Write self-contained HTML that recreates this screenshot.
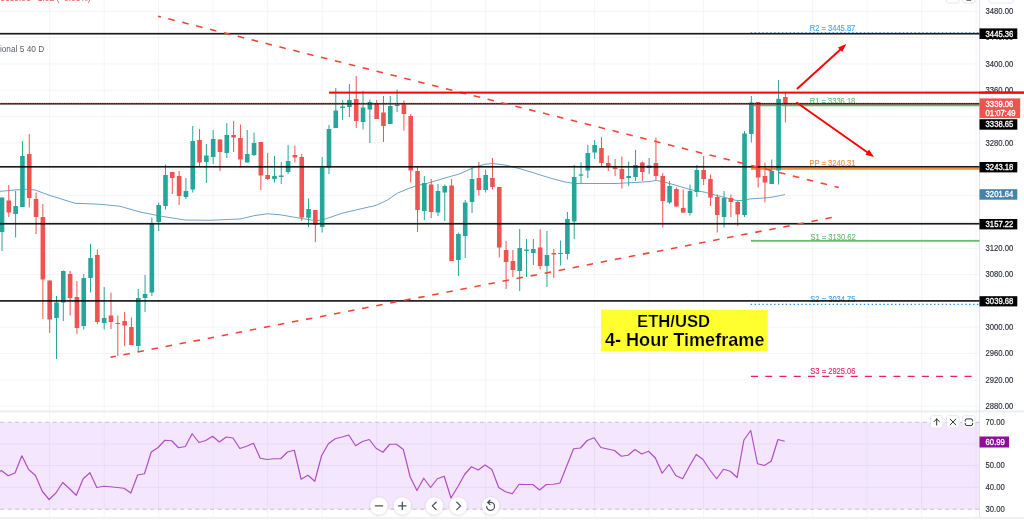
<!DOCTYPE html>
<html><head><meta charset="utf-8"><title>ETH/USD</title>
<style>
html,body{margin:0;padding:0;background:#fff;}
body{width:1024px;height:521px;overflow:hidden;font-family:"Liberation Sans",sans-serif;}
svg{display:block;font-family:"Liberation Sans",sans-serif;}
.ax{font-size:8.3px;fill:#2a2e39;stroke:#2a2e39;stroke-width:0.15px;}
.lb{font-size:8.3px;fill:#fff;stroke:#fff;stroke-width:0.32px;}
</style></head><body>
<svg width="1024" height="521" viewBox="0 0 1024 521">
<rect width="1024" height="521" fill="#fff"/>
<g opacity="0.999">

<rect x="0" y="422.3" width="979.5" height="86.9" fill="#f4e6fd"/>
<g stroke="#f4f5f8" stroke-width="1" fill="none">
<path d="M49.68 0V518"/>
<path d="M104.18 0V518"/>
<path d="M158.68 0V518"/>
<path d="M213.17 0V518"/>
<path d="M267.67 0V518"/>
<path d="M322.16 0V518"/>
<path d="M376.66 0V518"/>
<path d="M431.16 0V518"/>
<path d="M485.65 0V518"/>
<path d="M540.15 0V518"/>
<path d="M594.64 0V518"/>
<path d="M649.14 0V518"/>
<path d="M703.64 0V518"/>
<path d="M758.13 0V518"/>
<path d="M812.63 0V518"/>
<path d="M867.12 0V518"/>
<path d="M921.62 0V518"/>
<path d="M976.12 0V518"/>
<path d="M0 11.25H979.5"/>
<path d="M0 37.58H979.5"/>
<path d="M0 63.91H979.5"/>
<path d="M0 90.25H979.5"/>
<path d="M0 116.58H979.5"/>
<path d="M0 142.91H979.5"/>
<path d="M0 169.24H979.5"/>
<path d="M0 195.57H979.5"/>
<path d="M0 221.91H979.5"/>
<path d="M0 248.24H979.5"/>
<path d="M0 274.57H979.5"/>
<path d="M0 300.9H979.5"/>
<path d="M0 327.23H979.5"/>
<path d="M0 353.57H979.5"/>
<path d="M0 379.9H979.5"/>
<path d="M0 406.23H979.5"/>
<path d="M0 443.9H979.5" stroke="#ead9f5"/>
<path d="M0 465.6H979.5" stroke="#ead9f5"/>
<path d="M0 487.3H979.5" stroke="#ead9f5"/>
</g>
<g stroke="#e9d9f4" stroke-width="1">
<path d="M49.68 422.3V509.2"/>
<path d="M104.18 422.3V509.2"/>
<path d="M158.68 422.3V509.2"/>
<path d="M213.17 422.3V509.2"/>
<path d="M267.67 422.3V509.2"/>
<path d="M322.16 422.3V509.2"/>
<path d="M376.66 422.3V509.2"/>
<path d="M431.16 422.3V509.2"/>
<path d="M485.65 422.3V509.2"/>
<path d="M540.15 422.3V509.2"/>
<path d="M594.64 422.3V509.2"/>
<path d="M649.14 422.3V509.2"/>
<path d="M703.64 422.3V509.2"/>
<path d="M758.13 422.3V509.2"/>
<path d="M812.63 422.3V509.2"/>
<path d="M867.12 422.3V509.2"/>
<path d="M921.62 422.3V509.2"/>
<path d="M976.12 422.3V509.2"/>
</g>
<rect x="0" y="410.4" width="1024" height="2" fill="#eceef2"/>
<rect x="0" y="517.5" width="1024" height="1" fill="#e0e3eb"/>
<rect x="979" y="0" width="1" height="518" fill="#e0e3eb"/>
<path d="M0 422.3H979.5M0 509.2H979.5" stroke="#c2bdca" stroke-width="0.9" stroke-dasharray="4.3 3.2" fill="none"/>
<polyline fill="none" stroke="#b14ec5" stroke-width="1.2" stroke-linejoin="round" points="-4.8,474.5 1.4,470.5 8.21,475.75 15.02,473 21.84,455.75 28.65,469.5 35.46,475.5 42.27,491.25 49.08,499.5 55.9,493 62.71,482.5 69.52,488.75 76.33,495.25 83.14,478.75 89.96,472.75 96.77,487.5 103.58,486.25 110.39,486.75 117.2,487.5 124.02,488.25 130.83,493 137.64,475 144.45,473.75 151.26,452 158.08,447.5 164.89,440.25 171.7,440.75 178.51,447.75 185.32,446.5 192.14,433.75 198.95,442.5 205.76,440.5 212.57,436.25 219.38,442 226.2,437 233.01,438 239.82,448.5 246.63,446.25 253.44,443.25 260.26,458.25 267.07,459.5 273.88,458.75 280.69,458.75 287.5,452 294.32,450.25 301.13,479.25 307.94,475.25 314.75,481.25 321.56,455.75 328.38,443.75 335.19,438.75 342,437 348.81,435 355.62,445.75 362.44,441.5 369.25,439.5 376.06,448.25 382.87,452.25 389.68,444.25 396.5,444.25 403.31,449.5 410.12,476.75 416.93,490.5 423.74,478.25 430.56,487.5 437.37,478.75 444.18,476.25 450.99,498 457.8,486.75 464.62,474.5 471.43,466.75 478.24,470 485.05,465 491.86,469.5 498.68,487.5 505.49,491.75 512.3,493.75 519.11,484.25 525.92,484.5 532.74,484.5 539.55,490 546.36,484.5 553.17,484.25 559.98,483 566.8,465.75 573.61,448.75 580.42,448 587.23,440.5 594.04,437.75 600.86,447.5 607.67,449 614.48,450.5 621.29,456.25 628.1,455.25 634.92,449.5 641.73,454 648.54,451.25 655.35,458 662.16,473.25 668.98,464.5 675.79,475.5 682.6,478.75 689.41,466.25 696.22,454.5 703.04,459.5 709.85,470 716.66,478.75 723.47,469.25 730.28,471.25 737.1,477.5 743.91,440 750.72,430.5 757.53,463.75 764.34,465.5 771.16,461.25 777.97,439.5 784.78,441.25"/>
<path d="M750.7 32.6H979.5" stroke="#2196f3" stroke-opacity="0.8" stroke-width="1" stroke-dasharray="1.4 2.5" fill="none"/>
<rect x="751" y="104.6" width="228.5" height="1.7" fill="#66bb6a"/>
<rect x="751" y="167.9" width="228.5" height="1.9" fill="#fb8c3c"/>
<rect x="751" y="239.9" width="228.5" height="1.8" fill="#66bb6a"/>
<path d="M750.7 304.4H979.5" stroke="#2196f3" stroke-width="1.4" stroke-dasharray="1.4 2.5" fill="none"/>
<path d="M751 376.4H972" stroke="#e91e63" stroke-width="1.35" stroke-dasharray="7 7.24" fill="none"/>
<g font-size="8.2" text-anchor="middle">
<text transform="translate(832.5 30.8) scale(0.925 1)" fill="#42a5f5" stroke="#42a5f5" stroke-width="0.12">R2 = 3445.87</text>
<text transform="translate(832.5 103.6) scale(0.925 1)" fill="#66bb6a" stroke="#66bb6a" stroke-width="0.1">R1 = 3336.18</text>
<text transform="translate(832.5 166.4) scale(0.925 1)" fill="#fb8c3c" stroke="#fb8c3c" stroke-width="0.12">PP = 3240.31</text>
<text transform="translate(833 239.6) scale(0.925 1)" fill="#66bb6a" stroke="#66bb6a" stroke-width="0.12">S1 = 3130.62</text>
<text transform="translate(832.9 301.6) scale(0.925 1)" fill="#42a5f5" stroke="#42a5f5" stroke-width="0.12">S2 = 3034.75</text>
<text transform="translate(832.9 374.3) scale(0.925 1)" fill="#e91e63" stroke="#e91e63" stroke-width="0.12">S3 = 2925.06</text>
</g>
<polyline fill="none" stroke="#6fa2c8" stroke-width="1" stroke-linejoin="round" points="-2,191.5 15,190 25,189.25 35,190 50,195.5 75,203.25 100,204.25 120,206.25 140,212 160,216 185,220 210,220.25 240,219 255,215.5 267.5,213.75 280,214.75 292.5,216.9 305,219 315,220.6 321,220.25 326,218.75 342.5,213.1 360,209 376,205.4 387.5,200 397.5,193.1 408,188.75 415,186.25 430,182.5 445,178 460,173.75 475,167 485,164.25 492.5,163.5 505,165 520,168.75 535,173.25 550,178 565,182 575,183.5 590,183.5 615,183.5 635,182.5 650,181.5 656.25,180.4 665,182.25 675,185 691,189.75 705,192.25 715,195 725,197.5 736,200.4 742.5,200.6 750,198.9 762.5,198.1 770,197.5 778,196 785,194.5"/>
<path d="M2 197.5V251" stroke="#26a69a" stroke-width="1" fill="none"/>
<rect x="-0.3" y="197.5" width="4.6" height="34.5" fill="#26a69a"/>
<path d="M8.81 185V217" stroke="#ef5350" stroke-width="1" fill="none"/>
<rect x="6.51" y="200.5" width="4.6" height="12" fill="#ef5350"/>
<path d="M15.62 191V237.5" stroke="#26a69a" stroke-width="1" fill="none"/>
<rect x="13.32" y="206" width="4.6" height="8" fill="#26a69a"/>
<path d="M22.44 141V207" stroke="#26a69a" stroke-width="1" fill="none"/>
<rect x="20.14" y="156" width="4.6" height="51" fill="#26a69a"/>
<path d="M29.25 134V207.5" stroke="#ef5350" stroke-width="1" fill="none"/>
<rect x="26.95" y="154" width="4.6" height="44" fill="#ef5350"/>
<path d="M36.06 192.5V234" stroke="#ef5350" stroke-width="1" fill="none"/>
<rect x="33.76" y="199" width="4.6" height="18" fill="#ef5350"/>
<path d="M42.87 204V319" stroke="#ef5350" stroke-width="1" fill="none"/>
<rect x="40.57" y="217" width="4.6" height="62.5" fill="#ef5350"/>
<path d="M49.68 280.5V333" stroke="#ef5350" stroke-width="1" fill="none"/>
<rect x="47.38" y="280.5" width="4.6" height="39" fill="#ef5350"/>
<path d="M56.5 296V359" stroke="#26a69a" stroke-width="1" fill="none"/>
<rect x="54.2" y="302.5" width="4.6" height="15.5" fill="#26a69a"/>
<path d="M63.31 270.5V321" stroke="#26a69a" stroke-width="1" fill="none"/>
<rect x="61.01" y="271" width="4.6" height="31.5" fill="#26a69a"/>
<path d="M70.12 271V315.5" stroke="#ef5350" stroke-width="1" fill="none"/>
<rect x="67.82" y="274" width="4.6" height="24" fill="#ef5350"/>
<path d="M76.93 281V334" stroke="#ef5350" stroke-width="1" fill="none"/>
<rect x="74.63" y="297" width="4.6" height="31" fill="#ef5350"/>
<path d="M83.74 274V329.5" stroke="#26a69a" stroke-width="1" fill="none"/>
<rect x="81.44" y="278" width="4.6" height="48" fill="#26a69a"/>
<path d="M90.56 243.75V292.5" stroke="#26a69a" stroke-width="1" fill="none"/>
<rect x="88.26" y="258" width="4.6" height="20" fill="#26a69a"/>
<path d="M97.37 249.5V324" stroke="#ef5350" stroke-width="1" fill="none"/>
<rect x="95.07" y="255" width="4.6" height="67" fill="#ef5350"/>
<path d="M104.18 287V329.5" stroke="#26a69a" stroke-width="1" fill="none"/>
<rect x="101.88" y="318" width="4.6" height="5" fill="#26a69a"/>
<path d="M110.99 292.5V329" stroke="#ef5350" stroke-width="1" fill="none"/>
<rect x="108.69" y="315.5" width="4.6" height="6.5" fill="#ef5350"/>
<path d="M117.8 315.5V356" stroke="#ef5350" stroke-width="1" fill="none"/>
<rect x="115.5" y="323" width="4.6" height="1" fill="#ef5350"/>
<path d="M124.62 312V346" stroke="#ef5350" stroke-width="1" fill="none"/>
<rect x="122.32" y="321" width="4.6" height="4.5" fill="#ef5350"/>
<path d="M131.43 317.5V345" stroke="#ef5350" stroke-width="1" fill="none"/>
<rect x="129.13" y="327" width="4.6" height="18" fill="#ef5350"/>
<path d="M138.24 289V352" stroke="#26a69a" stroke-width="1" fill="none"/>
<rect x="135.94" y="298" width="4.6" height="48" fill="#26a69a"/>
<path d="M145.05 275V312" stroke="#26a69a" stroke-width="1" fill="none"/>
<rect x="142.75" y="294" width="4.6" height="4" fill="#26a69a"/>
<path d="M151.86 217.5V296" stroke="#26a69a" stroke-width="1" fill="none"/>
<rect x="149.56" y="224" width="4.6" height="68.5" fill="#26a69a"/>
<path d="M158.68 202.5V231" stroke="#26a69a" stroke-width="1" fill="none"/>
<rect x="156.38" y="205" width="4.6" height="17" fill="#26a69a"/>
<path d="M165.49 164.5V209.5" stroke="#26a69a" stroke-width="1" fill="none"/>
<rect x="163.19" y="175" width="4.6" height="31" fill="#26a69a"/>
<path d="M172.3 172V194" stroke="#ef5350" stroke-width="1" fill="none"/>
<rect x="170" y="172" width="4.6" height="6" fill="#ef5350"/>
<path d="M179.11 171V205" stroke="#ef5350" stroke-width="1" fill="none"/>
<rect x="176.81" y="176" width="4.6" height="20" fill="#ef5350"/>
<path d="M185.92 178V199" stroke="#26a69a" stroke-width="1" fill="none"/>
<rect x="183.62" y="191" width="4.6" height="6" fill="#26a69a"/>
<path d="M192.74 126V192.5" stroke="#26a69a" stroke-width="1" fill="none"/>
<rect x="190.44" y="141" width="4.6" height="48.5" fill="#26a69a"/>
<path d="M199.55 129V166" stroke="#ef5350" stroke-width="1" fill="none"/>
<rect x="197.25" y="140" width="4.6" height="22.5" fill="#ef5350"/>
<path d="M206.36 144V183" stroke="#26a69a" stroke-width="1" fill="none"/>
<rect x="204.06" y="155.5" width="4.6" height="6.5" fill="#26a69a"/>
<path d="M213.17 130V164" stroke="#26a69a" stroke-width="1" fill="none"/>
<rect x="210.87" y="139" width="4.6" height="18" fill="#26a69a"/>
<path d="M219.98 139V171" stroke="#ef5350" stroke-width="1" fill="none"/>
<rect x="217.68" y="139.5" width="4.6" height="12.5" fill="#ef5350"/>
<path d="M226.8 123V158" stroke="#26a69a" stroke-width="1" fill="none"/>
<rect x="224.5" y="135" width="4.6" height="18" fill="#26a69a"/>
<path d="M233.61 121V152" stroke="#ef5350" stroke-width="1" fill="none"/>
<rect x="231.31" y="135" width="4.6" height="2.5" fill="#ef5350"/>
<path d="M240.42 124.5V167.5" stroke="#ef5350" stroke-width="1" fill="none"/>
<rect x="238.12" y="138" width="4.6" height="21.5" fill="#ef5350"/>
<path d="M247.23 130V162.5" stroke="#26a69a" stroke-width="1" fill="none"/>
<rect x="244.93" y="154" width="4.6" height="8.5" fill="#26a69a"/>
<path d="M254.04 132.5V156" stroke="#26a69a" stroke-width="1" fill="none"/>
<rect x="251.74" y="143" width="4.6" height="12" fill="#26a69a"/>
<path d="M260.86 142V190" stroke="#ef5350" stroke-width="1" fill="none"/>
<rect x="258.56" y="142" width="4.6" height="33.5" fill="#ef5350"/>
<path d="M267.67 153V180" stroke="#ef5350" stroke-width="1" fill="none"/>
<rect x="265.37" y="175" width="4.6" height="4" fill="#ef5350"/>
<path d="M274.48 156V182.5" stroke="#26a69a" stroke-width="1" fill="none"/>
<rect x="272.18" y="176" width="4.6" height="3" fill="#26a69a"/>
<path d="M281.29 162V184" stroke="#26a69a" stroke-width="1" fill="none"/>
<rect x="278.99" y="175.5" width="4.6" height="1.5" fill="#26a69a"/>
<path d="M288.1 145V174" stroke="#26a69a" stroke-width="1" fill="none"/>
<rect x="285.8" y="161" width="4.6" height="11" fill="#26a69a"/>
<path d="M294.92 145.5V162.5" stroke="#ef5350" stroke-width="1" fill="none"/>
<rect x="292.62" y="155" width="4.6" height="2.5" fill="#ef5350"/>
<path d="M301.73 154V221" stroke="#ef5350" stroke-width="1" fill="none"/>
<rect x="299.43" y="157" width="4.6" height="60.5" fill="#ef5350"/>
<path d="M308.54 198.5V227" stroke="#26a69a" stroke-width="1" fill="none"/>
<rect x="306.24" y="209" width="4.6" height="8.75" fill="#26a69a"/>
<path d="M315.35 210V242" stroke="#ef5350" stroke-width="1" fill="none"/>
<rect x="313.05" y="210" width="4.6" height="14.75" fill="#ef5350"/>
<path d="M322.16 157V232.5" stroke="#26a69a" stroke-width="1" fill="none"/>
<rect x="319.86" y="167.5" width="4.6" height="59.5" fill="#26a69a"/>
<path d="M328.98 125V174" stroke="#26a69a" stroke-width="1" fill="none"/>
<rect x="326.68" y="129" width="4.6" height="38.5" fill="#26a69a"/>
<path d="M335.79 88V128" stroke="#26a69a" stroke-width="1" fill="none"/>
<rect x="333.49" y="110.5" width="4.6" height="17.5" fill="#26a69a"/>
<path d="M342.6 100V120" stroke="#26a69a" stroke-width="1" fill="none"/>
<rect x="340.3" y="106.5" width="4.6" height="1.5" fill="#26a69a"/>
<path d="M349.41 84V117" stroke="#26a69a" stroke-width="1" fill="none"/>
<rect x="347.11" y="100" width="4.6" height="7" fill="#26a69a"/>
<path d="M356.22 76V128" stroke="#ef5350" stroke-width="1" fill="none"/>
<rect x="353.92" y="99" width="4.6" height="22" fill="#ef5350"/>
<path d="M363.04 91V129.5" stroke="#26a69a" stroke-width="1" fill="none"/>
<rect x="360.74" y="107.5" width="4.6" height="14.5" fill="#26a69a"/>
<path d="M369.85 99.5V143" stroke="#26a69a" stroke-width="1" fill="none"/>
<rect x="367.55" y="102" width="4.6" height="7.5" fill="#26a69a"/>
<path d="M376.66 100V119" stroke="#ef5350" stroke-width="1" fill="none"/>
<rect x="374.36" y="103" width="4.6" height="16" fill="#ef5350"/>
<path d="M383.47 96V142" stroke="#ef5350" stroke-width="1" fill="none"/>
<rect x="381.17" y="112.5" width="4.6" height="13.5" fill="#ef5350"/>
<path d="M390.28 96V124" stroke="#26a69a" stroke-width="1" fill="none"/>
<rect x="387.98" y="106" width="4.6" height="18" fill="#26a69a"/>
<path d="M397.1 89.5V112" stroke="#26a69a" stroke-width="1" fill="none"/>
<rect x="394.8" y="104.5" width="4.6" height="1.5" fill="#26a69a"/>
<path d="M403.91 100.5V130.5" stroke="#ef5350" stroke-width="1" fill="none"/>
<rect x="401.61" y="104.5" width="4.6" height="9.5" fill="#ef5350"/>
<path d="M410.72 114V182.5" stroke="#ef5350" stroke-width="1" fill="none"/>
<rect x="408.42" y="116" width="4.6" height="54.5" fill="#ef5350"/>
<path d="M417.53 167V232" stroke="#ef5350" stroke-width="1" fill="none"/>
<rect x="415.23" y="171" width="4.6" height="39" fill="#ef5350"/>
<path d="M424.34 176V220" stroke="#26a69a" stroke-width="1" fill="none"/>
<rect x="422.04" y="183" width="4.6" height="28" fill="#26a69a"/>
<path d="M431.16 179V218" stroke="#ef5350" stroke-width="1" fill="none"/>
<rect x="428.86" y="184.5" width="4.6" height="27.5" fill="#ef5350"/>
<path d="M437.97 184V216" stroke="#26a69a" stroke-width="1" fill="none"/>
<rect x="435.67" y="191" width="4.6" height="21.5" fill="#26a69a"/>
<path d="M444.78 184.5V221" stroke="#26a69a" stroke-width="1" fill="none"/>
<rect x="442.48" y="186" width="4.6" height="6.5" fill="#26a69a"/>
<path d="M451.59 179V261" stroke="#ef5350" stroke-width="1" fill="none"/>
<rect x="449.29" y="185.5" width="4.6" height="75.5" fill="#ef5350"/>
<path d="M458.4 232.5V276" stroke="#26a69a" stroke-width="1" fill="none"/>
<rect x="456.1" y="234" width="4.6" height="26" fill="#26a69a"/>
<path d="M465.22 200V258" stroke="#26a69a" stroke-width="1" fill="none"/>
<rect x="462.92" y="202.5" width="4.6" height="33.5" fill="#26a69a"/>
<path d="M472.03 167.5V213" stroke="#26a69a" stroke-width="1" fill="none"/>
<rect x="469.73" y="179" width="4.6" height="23" fill="#26a69a"/>
<path d="M478.84 162V195.5" stroke="#ef5350" stroke-width="1" fill="none"/>
<rect x="476.54" y="178" width="4.6" height="12" fill="#ef5350"/>
<path d="M485.65 169.5V192.5" stroke="#26a69a" stroke-width="1" fill="none"/>
<rect x="483.35" y="175" width="4.6" height="15" fill="#26a69a"/>
<path d="M492.46 158V189.5" stroke="#ef5350" stroke-width="1" fill="none"/>
<rect x="490.16" y="178" width="4.6" height="9" fill="#ef5350"/>
<path d="M499.28 187V257.5" stroke="#ef5350" stroke-width="1" fill="none"/>
<rect x="496.98" y="187" width="4.6" height="60.5" fill="#ef5350"/>
<path d="M506.09 241V289" stroke="#ef5350" stroke-width="1" fill="none"/>
<rect x="503.79" y="250" width="4.6" height="12" fill="#ef5350"/>
<path d="M512.9 250V277" stroke="#ef5350" stroke-width="1" fill="none"/>
<rect x="510.6" y="261" width="4.6" height="9" fill="#ef5350"/>
<path d="M519.71 229V291" stroke="#26a69a" stroke-width="1" fill="none"/>
<rect x="517.41" y="248" width="4.6" height="23" fill="#26a69a"/>
<path d="M526.52 239V277" stroke="#26a69a" stroke-width="1" fill="none"/>
<rect x="524.22" y="249.5" width="4.6" height="1.5" fill="#26a69a"/>
<path d="M533.34 239V265" stroke="#26a69a" stroke-width="1" fill="none"/>
<rect x="531.04" y="249" width="4.6" height="4" fill="#26a69a"/>
<path d="M540.15 229.5V269.5" stroke="#ef5350" stroke-width="1" fill="none"/>
<rect x="537.85" y="247.5" width="4.6" height="18.5" fill="#ef5350"/>
<path d="M546.96 231V287" stroke="#26a69a" stroke-width="1" fill="none"/>
<rect x="544.66" y="255" width="4.6" height="11" fill="#26a69a"/>
<path d="M553.77 249V278" stroke="#ef5350" stroke-width="1" fill="none"/>
<rect x="551.47" y="253" width="4.6" height="1.5" fill="#ef5350"/>
<path d="M560.58 240.5V265.5" stroke="#26a69a" stroke-width="1" fill="none"/>
<rect x="558.28" y="253" width="4.6" height="1" fill="#26a69a"/>
<path d="M567.4 212V259.5" stroke="#26a69a" stroke-width="1" fill="none"/>
<rect x="565.1" y="219" width="4.6" height="35" fill="#26a69a"/>
<path d="M574.21 165V239" stroke="#26a69a" stroke-width="1" fill="none"/>
<rect x="571.91" y="177" width="4.6" height="44.5" fill="#26a69a"/>
<path d="M581.02 162.25V183" stroke="#26a69a" stroke-width="1" fill="none"/>
<rect x="578.72" y="174.4" width="4.6" height="1.3" fill="#26a69a"/>
<path d="M587.83 145V178" stroke="#26a69a" stroke-width="1" fill="none"/>
<rect x="585.53" y="153" width="4.6" height="17.5" fill="#26a69a"/>
<path d="M594.64 140V159" stroke="#26a69a" stroke-width="1" fill="none"/>
<rect x="592.34" y="145" width="4.6" height="7.5" fill="#26a69a"/>
<path d="M601.46 137V167" stroke="#ef5350" stroke-width="1" fill="none"/>
<rect x="599.16" y="148" width="4.6" height="15" fill="#ef5350"/>
<path d="M608.27 155.5V171" stroke="#ef5350" stroke-width="1" fill="none"/>
<rect x="605.97" y="163" width="4.6" height="3" fill="#ef5350"/>
<path d="M615.08 159V176" stroke="#ef5350" stroke-width="1" fill="none"/>
<rect x="612.78" y="167.5" width="4.6" height="1.5" fill="#ef5350"/>
<path d="M621.89 156.5V188.5" stroke="#ef5350" stroke-width="1" fill="none"/>
<rect x="619.59" y="169" width="4.6" height="10" fill="#ef5350"/>
<path d="M628.7 161.5V186" stroke="#26a69a" stroke-width="1" fill="none"/>
<rect x="626.4" y="176" width="4.6" height="2" fill="#26a69a"/>
<path d="M635.52 150V181" stroke="#26a69a" stroke-width="1" fill="none"/>
<rect x="633.22" y="165" width="4.6" height="12" fill="#26a69a"/>
<path d="M642.33 161.5V181" stroke="#ef5350" stroke-width="1" fill="none"/>
<rect x="640.03" y="162.5" width="4.6" height="9.5" fill="#ef5350"/>
<path d="M649.14 158V174" stroke="#26a69a" stroke-width="1" fill="none"/>
<rect x="646.84" y="165.5" width="4.6" height="2.5" fill="#26a69a"/>
<path d="M655.95 137.5V180" stroke="#ef5350" stroke-width="1" fill="none"/>
<rect x="653.65" y="163" width="4.6" height="13" fill="#ef5350"/>
<path d="M662.76 173V227.5" stroke="#ef5350" stroke-width="1" fill="none"/>
<rect x="660.46" y="176" width="4.6" height="25" fill="#ef5350"/>
<path d="M669.58 181V204" stroke="#26a69a" stroke-width="1" fill="none"/>
<rect x="667.28" y="186" width="4.6" height="16.5" fill="#26a69a"/>
<path d="M676.39 187.5V206.5" stroke="#ef5350" stroke-width="1" fill="none"/>
<rect x="674.09" y="189" width="4.6" height="17.5" fill="#ef5350"/>
<path d="M683.2 189.5V212.6" stroke="#ef5350" stroke-width="1" fill="none"/>
<rect x="680.9" y="207.9" width="4.6" height="4.7" fill="#ef5350"/>
<path d="M690.01 184.5V215.5" stroke="#26a69a" stroke-width="1" fill="none"/>
<rect x="687.71" y="191" width="4.6" height="22" fill="#26a69a"/>
<path d="M696.82 165V197" stroke="#26a69a" stroke-width="1" fill="none"/>
<rect x="694.52" y="170" width="4.6" height="22" fill="#26a69a"/>
<path d="M703.64 156V185" stroke="#ef5350" stroke-width="1" fill="none"/>
<rect x="701.34" y="170" width="4.6" height="9" fill="#ef5350"/>
<path d="M710.45 174.5V206" stroke="#ef5350" stroke-width="1" fill="none"/>
<rect x="708.15" y="179" width="4.6" height="18.5" fill="#ef5350"/>
<path d="M717.26 194.5V232.5" stroke="#ef5350" stroke-width="1" fill="none"/>
<rect x="714.96" y="197" width="4.6" height="18" fill="#ef5350"/>
<path d="M724.07 191V227.5" stroke="#26a69a" stroke-width="1" fill="none"/>
<rect x="721.77" y="198" width="4.6" height="19" fill="#26a69a"/>
<path d="M730.88 194.5V217" stroke="#ef5350" stroke-width="1" fill="none"/>
<rect x="728.58" y="198" width="4.6" height="4" fill="#ef5350"/>
<path d="M737.7 201V226" stroke="#ef5350" stroke-width="1" fill="none"/>
<rect x="735.4" y="202" width="4.6" height="12.5" fill="#ef5350"/>
<path d="M744.51 131V217" stroke="#26a69a" stroke-width="1" fill="none"/>
<rect x="742.21" y="133.5" width="4.6" height="81.5" fill="#26a69a"/>
<path d="M751.32 96V142.5" stroke="#26a69a" stroke-width="1" fill="none"/>
<rect x="749.02" y="102.5" width="4.6" height="31.5" fill="#26a69a"/>
<path d="M758.13 102V187.5" stroke="#ef5350" stroke-width="1" fill="none"/>
<rect x="755.83" y="102" width="4.6" height="75.5" fill="#ef5350"/>
<path d="M764.94 162.5V202.5" stroke="#ef5350" stroke-width="1" fill="none"/>
<rect x="762.64" y="176" width="4.6" height="6.5" fill="#ef5350"/>
<path d="M771.76 159.5V184" stroke="#26a69a" stroke-width="1" fill="none"/>
<rect x="769.46" y="171" width="4.6" height="13" fill="#26a69a"/>
<path d="M778.57 80V184.5" stroke="#26a69a" stroke-width="1" fill="none"/>
<rect x="776.27" y="98.75" width="4.6" height="71.75" fill="#26a69a"/>
<path d="M785.38 92.5V122.5" stroke="#ef5350" stroke-width="1" fill="none"/>
<rect x="783.08" y="97" width="4.6" height="6.75" fill="#ef5350"/>
<rect x="0" y="32.88" width="979.5" height="1.65" fill="#000" fill-opacity="0.9"/>
<rect x="0" y="102.92" width="979.5" height="1.65" fill="#000" fill-opacity="0.9"/>
<rect x="0" y="165.98" width="979.5" height="1.65" fill="#000" fill-opacity="0.9"/>
<rect x="0" y="222.93" width="979.5" height="1.65" fill="#000" fill-opacity="0.9"/>
<rect x="0" y="300.07" width="979.5" height="1.65" fill="#000" fill-opacity="0.9"/>
<path d="M0 103.9H979.5" stroke="#ef5350" stroke-width="0.9" stroke-dasharray="0.9 0.9" fill="none"/>
<path d="M158 16.25L838.75 187.5" stroke="#f44336" stroke-width="1.55" stroke-dasharray="6.6 7.71" stroke-dashoffset="3.62" fill="none"/>
<path d="M110.4 357.25L832 217.5" stroke="#f44336" stroke-width="1.55" stroke-dasharray="6.5 7.8" stroke-dashoffset="1" fill="none"/>
<rect x="329" y="91.6" width="695" height="2.0" fill="#ff0000"/>
<g stroke="#ff0000" stroke-width="1.9" fill="#ff0000" stroke-linecap="round">
<path d="M797.5 88.5L841 49"/>
<path d="M797 102.75L868 152.7"/>
</g>
<path d="M846.3 44.1L842.2 52L838 47.4Z" fill="#ff0000"/>
<path d="M874 156.9L865.4 154.7L869 149.6Z" fill="#ff0000"/>
<rect x="601.1" y="309.8" width="166.7" height="41.3" fill="#ffff30"/>
<text x="673.6" y="327.1" font-size="16.8" font-weight="bold" text-anchor="middle" fill="#000" stroke="#ffff30" stroke-width="0.2" textLength="73" lengthAdjust="spacingAndGlyphs">ETH/USD</text>
<text x="684.7" y="346" font-size="17.6" font-weight="bold" text-anchor="middle" fill="#000" stroke="#ffff30" stroke-width="0.2" textLength="159.6" lengthAdjust="spacingAndGlyphs">4- Hour Timeframe</text>
<text x="44.2" y="51.9" font-size="8.3" fill="#5d606b" text-anchor="end">Traditional 5 40 D</text>
<text x="0.3" y="0.8" font-size="8.4" fill="#ef5350">3339.06 −1.02 (−0.03%)</text>
<text class="ax" transform="translate(985.5 13.95) scale(0.925 1)">3480.00</text>
<text class="ax" transform="translate(985.5 40.28) scale(0.925 1)">3440.00</text>
<text class="ax" transform="translate(985.5 66.61) scale(0.925 1)">3400.00</text>
<text class="ax" transform="translate(985.5 92.95) scale(0.925 1)">3360.00</text>
<text class="ax" transform="translate(985.5 145.61) scale(0.925 1)">3280.00</text>
<text class="ax" transform="translate(985.5 171.94) scale(0.925 1)">3240.00</text>
<text class="ax" transform="translate(985.5 198.27) scale(0.925 1)">3200.00</text>
<text class="ax" transform="translate(985.5 224.61) scale(0.925 1)">3160.00</text>
<text class="ax" transform="translate(985.5 250.94) scale(0.925 1)">3120.00</text>
<text class="ax" transform="translate(985.5 277.27) scale(0.925 1)">3080.00</text>
<text class="ax" transform="translate(985.5 303.6) scale(0.925 1)">3040.00</text>
<text class="ax" transform="translate(985.5 329.93) scale(0.925 1)">3000.00</text>
<text class="ax" transform="translate(985.5 356.27) scale(0.925 1)">2960.00</text>
<text class="ax" transform="translate(985.5 382.6) scale(0.925 1)">2920.00</text>
<text class="ax" transform="translate(985.5 408.93) scale(0.925 1)">2880.00</text>
<text class="ax" transform="translate(985.5 424.7) scale(0.925 1)">70.00</text>
<text class="ax" transform="translate(985.5 468.2) scale(0.925 1)">50.00</text>
<text class="ax" transform="translate(985.5 490) scale(0.925 1)">40.00</text>
<text class="ax" transform="translate(985.5 511.5) scale(0.925 1)">30.00</text>
<rect x="979" y="91.6" width="45" height="2.0" fill="#ff0000"/>
<rect x="979.5" y="28.4" width="37.8" height="10.6" fill="#000"/>
<text class="lb" transform="translate(985.6 36.7) scale(0.925 1)">3445.36</text>
<rect x="979.5" y="98.4" width="40.7" height="19.7" fill="#ef5350"/>
<text class="lb" transform="translate(985.6 107) scale(0.925 1)">3339.06</text>
<text class="lb" transform="translate(985.6 115.8) scale(0.925 1)">01:07:49</text>
<rect x="979.5" y="119.2" width="37.8" height="10.5" fill="#000"/>
<text class="lb" transform="translate(985.6 127.45) scale(0.925 1)">3338.65</text>
<rect x="979.5" y="162" width="37.8" height="10.4" fill="#000"/>
<text class="lb" transform="translate(985.6 170.2) scale(0.925 1)">3243.18</text>
<rect x="979.5" y="189.2" width="37.8" height="10.5" fill="#4682a9"/>
<text class="lb" transform="translate(985.6 197.45) scale(0.925 1)">3201.64</text>
<rect x="979.5" y="219" width="37.8" height="10.4" fill="#000"/>
<text class="lb" transform="translate(985.6 227.2) scale(0.925 1)">3157.22</text>
<rect x="979.5" y="296.2" width="37.8" height="10.2" fill="#000"/>
<text class="lb" transform="translate(985.6 304.3) scale(0.925 1)">3039.68</text>
<rect x="979.5" y="436.5" width="29.5" height="11" fill="#8e0e9a"/>
<text class="lb" transform="translate(985.6 445) scale(0.925 1)">60.99</text>
<rect x="930.4" y="415.6" width="12.5" height="12.4" rx="2" fill="#fff" stroke="#e0e3eb" stroke-width="0.8"/>
<rect x="946.5" y="415.6" width="12.5" height="12.4" rx="2" fill="#fff" stroke="#e0e3eb" stroke-width="0.8"/>
<rect x="962.6" y="415.6" width="12.5" height="12.4" rx="2" fill="#fff" stroke="#e0e3eb" stroke-width="0.8"/>
<g stroke="#131722" stroke-width="0.9" fill="none" stroke-linecap="round" stroke-linejoin="round">
<path d="M936.7 425.1V419M934.25 421.5L936.7 418.95L939.3 421.5"/>
<path d="M950.2 419.2L955.7 424.8M955.7 419.2L950.2 424.8"/>
<path d="M965.2 421.2V420.6Q965.2 418.9 966.9 418.9H970.9Q972.6 418.9 972.6 420.6V421.2M965.2 423.4V424Q965.2 425.6 966.9 425.6H970.9Q972.6 425.6 972.6 424V423.4"/>
</g>
<rect x="946.3" y="-10" width="12.8" height="13" rx="2" fill="#fff" stroke="#e0e3eb" stroke-width="0.8"/>
<rect x="962.3" y="-10" width="12.8" height="13" rx="2" fill="#fff" stroke="#e0e3eb" stroke-width="0.8"/>
<rect x="989" y="-10" width="24.6" height="13" rx="2" fill="#fff" stroke="#e0e3eb" stroke-width="0.8"/>
<rect x="966.5" y="-2" width="4.6" height="2.6" fill="#131722"/>
<defs><filter id="sh" x="-30%" y="-30%" width="160%" height="160%"><feDropShadow dx="0" dy="0.6" stdDeviation="1" flood-color="#000" flood-opacity="0.22"/></filter></defs>
<circle cx="378.9" cy="505.9" r="8.7" fill="#fff" filter="url(#sh)"/>
<circle cx="402.3" cy="505.9" r="8.7" fill="#fff" filter="url(#sh)"/>
<circle cx="434.4" cy="505.9" r="8.7" fill="#fff" filter="url(#sh)"/>
<circle cx="458.2" cy="505.9" r="8.7" fill="#fff" filter="url(#sh)"/>
<circle cx="490.6" cy="505.9" r="8.7" fill="#fff" filter="url(#sh)"/>
<g stroke="#4a4d58" stroke-width="1.25" fill="none" stroke-linecap="round" stroke-linejoin="round">
<path d="M375.4 505.9H382.6"/>
<path d="M398.6 505.9H406M402.3 502.2V509.6"/>
<path d="M436.1 502.2L432.3 505.9L436.1 509.6"/>
<path d="M456.8 502.2L460.6 505.9L456.8 509.6"/>
<path d="M486.65 506.6A3.95 3.95 0 1 0 490.6 502.4H487.8M490 500.3L487.7 502.45L490 504.6"/>
</g>
</g></svg></body></html>
